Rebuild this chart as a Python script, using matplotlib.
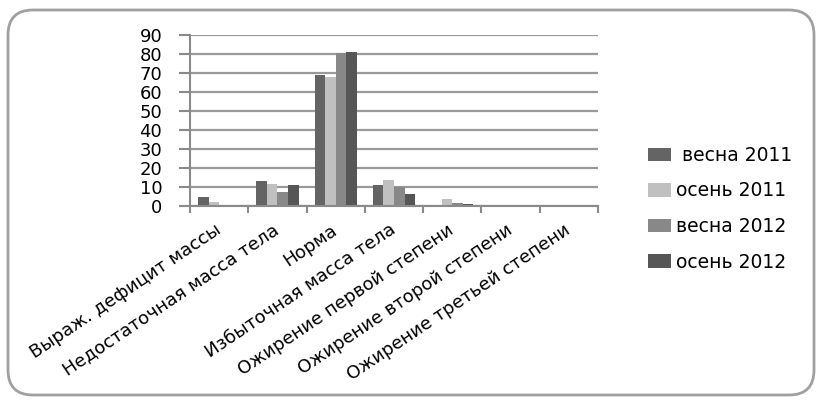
import numpy as np
import matplotlib.pyplot as plt
from matplotlib.patches import FancyBboxPatch

plt.rcParams["font.family"] = ["DejaVu Sans"]

categories = [
    "Выраж. дефицит массы",
    "Недостаточная масса тела",
    "Норма",
    "Избыточная масса тела",
    "Ожирение первой степени",
    "Ожирение второй степени",
    "Ожирение третьей степени",
]
series_names = [" весна 2011", "осень 2011", "весна 2012", "осень 2012"]
spring_2011 = [5.0, 13.3, 69.0, 10.9, 0.5, 0, 0]
autumn_2011 = [2.3, 11.6, 67.7, 13.7, 3.5, 0, 0]
spring_2012 = [0, 7.5, 80.7, 10.0, 1.4, 0, 0]
autumn_2012 = [0, 11.2, 80.9, 6.1, 1.0, 0, 0]
series = [spring_2011, autumn_2011, spring_2012, autumn_2012]
colors = ["#646464", "#c0c0c0", "#888888", "#565656"]

W, H = 823, 403
fig = plt.figure(figsize=(W / 100, H / 100), dpi=100)
ax = fig.add_axes([190 / W, 1 - 206 / H, 408 / W, 171 / H])

# rounded frame around the whole chart (inch units keep the corners round)
frame = FancyBboxPatch((0.08, 0.08), 8.06, 3.85,
                       boxstyle="round,pad=0,rounding_size=0.25",
                       transform=fig.dpi_scale_trans, facecolor="none",
                       edgecolor="#a0a0a0", linewidth=2, zorder=0)
fig.patches.append(frame)

x = np.arange(len(categories))
width = 1 / 5.5
for i, (vals, name, c) in enumerate(zip(series, series_names, colors)):
    ax.bar(x + (i - 1.5) * width, vals, width, color=c, label=name, zorder=2)

ax.set_xlim(-0.5, len(categories) - 0.5)
ax.set_ylim(0, 90)
ax.set_yticks(range(0, 91, 10))
ax.yaxis.grid(True, color="#9a9a9a", linewidth=1.6, zorder=1)
ax.set_axisbelow(True)

# tick marks on category boundaries, names under the category centres
ax.set_xticks(np.arange(len(categories) + 1) - 0.5)
ax.set_xticklabels([])
ax.set_xticks(x, minor=True)
ax.set_xticklabels(categories, minor=True, rotation=34, ha="right",
                   va="center", rotation_mode="anchor", fontsize=13)
ax.tick_params(axis="x", which="minor", length=0, pad=16)
ax.tick_params(axis="x", which="major", length=5, width=1.5, color="#8a8a8a")
ax.tick_params(axis="y", length=8, width=1.5, color="#8a8a8a", labelsize=13, pad=12)

for s in ["top", "right"]:
    ax.spines[s].set_visible(False)
for s in ["left", "bottom"]:
    ax.spines[s].set_color("#8a8a8a")
    ax.spines[s].set_linewidth(1.5)

fig.legend(*ax.get_legend_handles_labels(), loc="upper left",
           bbox_to_anchor=(648 / W, 1 - 146 / H), bbox_transform=fig.transFigure,
           frameon=False, borderpad=0, borderaxespad=0, fontsize=13.5,
           handlelength=1.2, handleheight=0.72, labelspacing=0.88,
           handletextpad=0.3)

fig.savefig("out.png", dpi=100)
